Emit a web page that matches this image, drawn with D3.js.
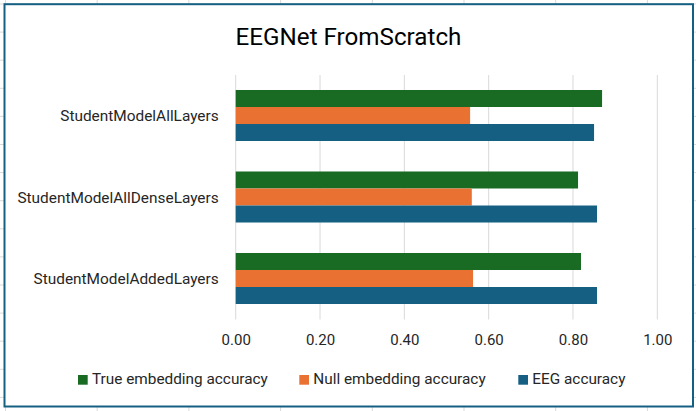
<!DOCTYPE html>
<html>
<head>
<meta charset="utf-8">
<script src="https://cdn.jsdelivr.net/npm/d3@7"></script>
<style>
  html, body { margin: 0; padding: 0; background: #fff; }
  svg { display: block; font-family: Roboto, "Noto Sans", sans-serif; }
</style>
</head>
<body>
<div id="chart"></div>
<script>
var categories = ['StudentModelAllLayers', 'StudentModelAllDenseLayers', 'StudentModelAddedLayers'];
var seriesNames = ['True embedding accuracy', 'Null embedding accuracy', 'EEG accuracy'];
var trueEmbedding = [0.869, 0.812, 0.819];
var nullEmbedding = [0.556, 0.560, 0.563];
var eegAccuracy = [0.850, 0.857, 0.857];
var xTicks = [0, 0.2, 0.4, 0.6, 0.8, 1.0];
var colors = ['#196B24', '#E97132', '#156082'];

var width = 696, height = 411;
var seriesValues = [trueEmbedding, nullEmbedding, eegAccuracy];

var svg = d3.select('#chart')
    .append('svg')
    .attr('width', width)
    .attr('height', height);

/* spreadsheet cells behind the chart */
var cellCols = d3.range(5.5, width, 91.7),
    cellRows = d3.range(4, height, 28.1);
svg.append('g').selectAll('line.col').data(cellCols).enter().append('line')
    .attr('x1', function (d) { return d; }).attr('x2', function (d) { return d; })
    .attr('y1', 0).attr('y2', height)
    .attr('stroke', '#d9d9d9').attr('stroke-width', 1);
svg.append('g').selectAll('line.row').data(cellRows).enter().append('line')
    .attr('x1', 0).attr('x2', width)
    .attr('y1', function (d) { return d; }).attr('y2', function (d) { return d; })
    .attr('stroke', '#d9d9d9').attr('stroke-width', 1);

/* chart area with border */
svg.append('rect')
    .attr('x', 4.5).attr('y', 4.2)
    .attr('width', 688.5).attr('height', 402.3)
    .attr('fill', '#fff')
    .attr('stroke', '#156082')
    .attr('stroke-width', 2);

svg.append('text')
    .attr('x', 348.5).attr('y', 45)
    .attr('text-anchor', 'middle')
    .attr('font-size', 24.2)
    .attr('fill', '#000')
    .text('EEGNet FromScratch');

var x = d3.scaleLinear().domain([0, 1]).range([235.7, 657.3]);

var y = d3.scaleBand()
    .domain(categories)
    .range([74.75, 319.25])
    .paddingInner(0.374)
    .paddingOuter(0.187);

var ySub = d3.scaleBand()
    .domain(d3.range(seriesNames.length))
    .range([0, y.bandwidth()]);

/* gridlines */
svg.append('g').selectAll('line').data(xTicks).enter().append('line')
    .attr('x1', function (d) { return x(d); })
    .attr('x2', function (d) { return x(d); })
    .attr('y1', 75).attr('y2', 319.5)
    .attr('stroke', '#d9d9d9')
    .attr('stroke-width', 1);

/* bars */
var groups = svg.append('g').selectAll('g').data(categories).enter().append('g')
    .attr('transform', function (d) { return 'translate(0,' + y(d) + ')'; });

groups.selectAll('rect')
    .data(function (d, i) {
        return seriesValues.map(function (vals, s) { return { s: s, v: vals[i] }; });
    })
    .enter().append('rect')
    .attr('x', x(0))
    .attr('y', function (d) { return ySub(d.s); })
    .attr('width', function (d) { return x(d.v) - x(0); })
    .attr('height', ySub.bandwidth())
    .attr('fill', function (d) { return colors[d.s]; });

/* category labels */
svg.append('g').selectAll('text').data(categories).enter().append('text')
    .attr('x', 218.7)
    .attr('y', function (d) { return y(d) + y.bandwidth() / 2 + 5.5; })
    .attr('text-anchor', 'end')
    .attr('font-size', 15.4)
    .attr('fill', '#262626')
    .text(function (d) { return d; });

/* x tick labels */
var xAxis = d3.axisBottom(x)
    .tickValues(xTicks)
    .tickSize(0)
    .tickPadding(0)
    .tickFormat(d3.format('.2f'));

var axisG = svg.append('g')
    .attr('transform', 'translate(0,334)')
    .call(xAxis);
axisG.select('.domain').remove();
axisG.selectAll('text')
    .attr('font-family', 'Roboto, "Noto Sans", sans-serif')
    .attr('font-size', 15)
    .attr('fill', '#262626')
    .attr('dy', '0.71em');

/* legend */
var legendX = [78, 299.3, 518.3];
var legend = svg.append('g').selectAll('g').data(seriesNames).enter().append('g')
    .attr('transform', function (d, i) { return 'translate(' + legendX[i] + ',375)'; });
legend.append('rect')
    .attr('width', 9.7).attr('height', 9.7)
    .attr('fill', function (d, i) { return colors[i]; });
legend.append('text')
    .attr('x', 14)
    .attr('y', 9.3)
    .attr('font-size', 15.35)
    .attr('fill', '#262626')
    .text(function (d) { return d; });
</script>
</body>
</html>
